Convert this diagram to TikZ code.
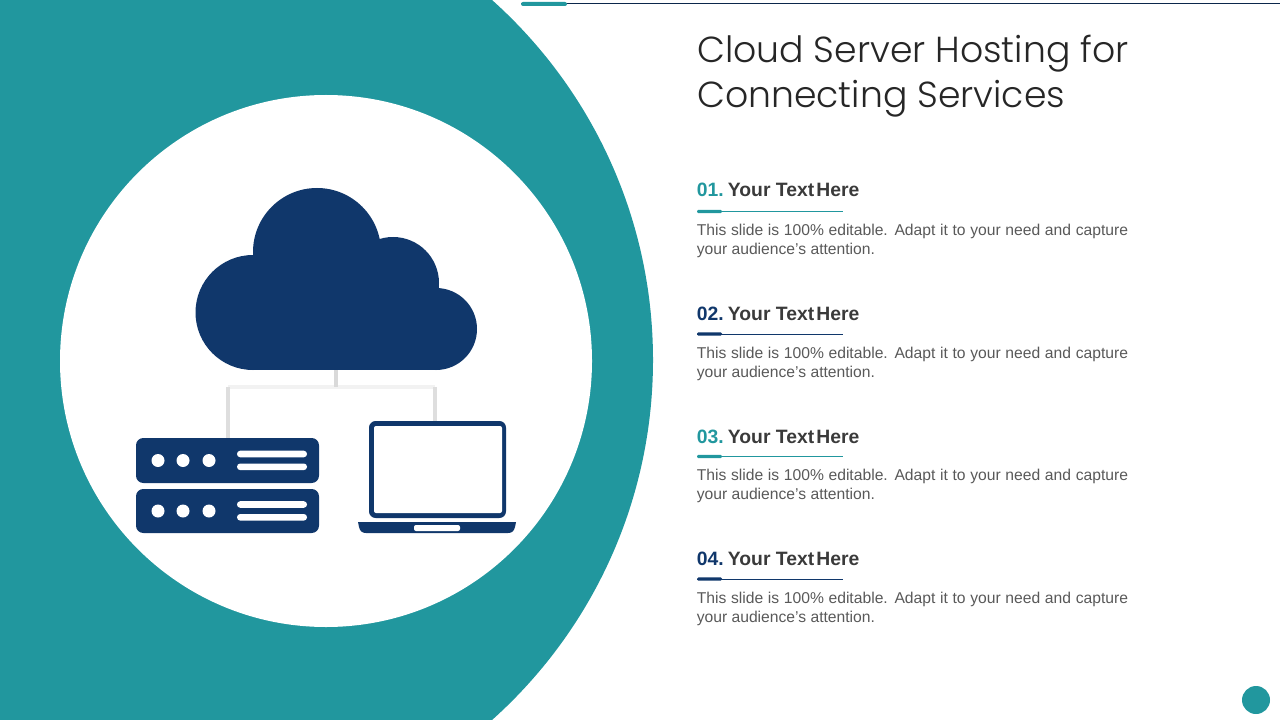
\documentclass[tikz,border=0pt]{standalone}
\usepackage{fontspec}
\setmainfont{Liberation Sans}
\newfontfamily\titlefont{Poppins Light}
\definecolor{teal1}{HTML}{21979E}
\definecolor{navy1}{HTML}{10376B}
\definecolor{bodygrey}{HTML}{595959}
\definecolor{headgrey}{HTML}{3A3A3A}
\definecolor{titlegrey}{HTML}{262626}
\tikzset{
  navyfill/.style={fill=navy1,draw=none},
  whitefill/.style={fill=white,draw=none},
  linkline/.style={draw=#1,line width=2.6pt},
  titletext/.style={anchor=base west,inner sep=0pt,text=titlegrey,font=\titlefont\fontsize{27.15}{33}\selectfont},
  headtext/.style={anchor=base west,inner sep=0pt,text=headgrey,font=\bfseries\fontsize{14.5}{18}\selectfont},
  bodytext/.style={anchor=north west,inner sep=0pt,text=bodygrey,align=left,font=\fontsize{11.75}{14.25}\selectfont},
}
\begin{document}
\begin{tikzpicture}[x=0.75pt,y=-0.75pt]
\useasboundingbox (0,0) rectangle (1280,720);
% big teal disc clipped to page
\begin{scope}
\clip (0,0) rectangle (1280,720);
\fill[teal1] (170,360) circle (483);
\fill[teal1] (0,0) rectangle (170,720);
\end{scope}
\fill[white] (326,361) circle (266);
% top rule
\draw[draw=navy1!70!black,line width=0.75pt] (521,4) -- (1280,4);
\fill[teal1,rounded corners=1.5pt] (521,2) rectangle (567,6);
% named anchors
\coordinate (cloudfoot) at (336,370);
\coordinate (junction) at (336,387);
\coordinate (jleft) at (228,387);
\coordinate (jright) at (435,387);
\coordinate (servertop) at (228,438);
\coordinate (laptoptop) at (435,421);
% connectors
\draw[linkline=black!5,line cap=butt] (jleft) -- (jright);
\draw[linkline=black!15] (cloudfoot) -- (junction);
\draw[linkline=black!13] (jleft) -- (servertop);
\draw[linkline=black!13] (jright) -- (laptoptop);
% cloud
\fill[navyfill] (317,252) circle (64);
\fill[navyfill] (393,283) circle (46);
\fill[navyfill] (436,329) circle (41);
\fill[navyfill] (253,312.5) circle (57.5);
\fill[navyfill] (253,290) rectangle (436,370);
% servers
\foreach \t/\b in {438/483,489/533}{
  \fill[navyfill,rounded corners=5.5pt] (136,\t) rectangle (319,\b);
  \pgfmathsetmacro{\m}{(\t+\b)/2}
  \foreach \x in {158,183,209}{
    \fill[whitefill] (\x,\m) circle (6.5);
  }
  \fill[whitefill,rounded corners=2.4pt] (237,\m-9.8) rectangle (307,\m-3.2);
  \fill[whitefill,rounded corners=2.4pt] (237,\m+3) rectangle (307,\m+9.6);
}
% laptop
\fill[navyfill,rounded corners=5pt] (369,421) rectangle (506,518);
\fill[whitefill,rounded corners=1.5pt] (374,426) rectangle (502,513);
\fill[navyfill] (358,522) -- (516,522) -- (515,527) .. controls (514,531) and (512,533) .. (508,533) -- (366,533) .. controls (362,533) and (360,531) .. (359,527) -- cycle;
\fill[whitefill,rounded corners=1.5pt] (414,525) rectangle (460,531);
% title
\node[titletext] (title1) at (697,63) {Cloud Server Hosting for};
\node[titletext] (title2) at (697,108) {Connecting Services};
% sections
\foreach \n/\c/\hy/\ly/\by in {01/teal1/197/211.5/224, 02/navy1/320/334/347, 03/teal1/443/456.5/469, 04/navy1/565/579/592}{
  \node[headtext] (head\n) at (696.7,\hy) {\textcolor{\c}{\n.}\kern-2.3pt{} Your Text\kern-2.4pt{} Here};
  \draw[draw=\c,line width=0.75pt] (697,\ly) -- (843,\ly);
  \fill[\c,rounded corners=1pt] (697,\ly-1.6) rectangle (722,\ly+1.6);
  \node[bodytext] (body\n) at (696.5,\by) {\hbox to 323.5pt{This slide is 100\% editable. Adapt it to your need and capture}\\your audience’s attention.};
}
% page marker
\fill[teal1] (1256,700) circle (14);
\end{tikzpicture}
\end{document}
